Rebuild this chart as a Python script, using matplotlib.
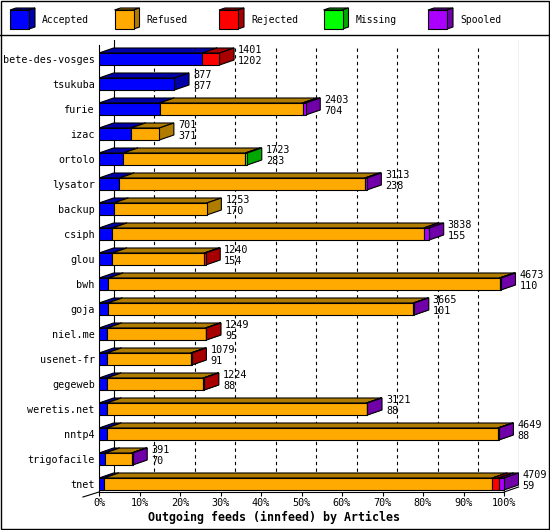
import matplotlib
matplotlib.use("Agg")
import matplotlib.pyplot as plt
from matplotlib.patches import Polygon, Rectangle

# --- data (articles per outgoing innfeed peer) ---
feeds = ["bete-des-vosges", "tsukuba", "furie", "izac", "ortolo", "lysator",
         "backup", "csiph", "glou", "bwh", "goja", "niel.me", "usenet-fr",
         "gegeweb", "weretis.net", "nntp4", "trigofacile", "tnet"]
totals = [1401, 877, 2403, 701, 1723, 3113, 1253, 3838, 1240, 4673, 3665,
          1249, 1079, 1224, 3121, 4649, 391, 4709]
accepted = [1202, 877, 704, 371, 283, 238, 170, 155, 154, 110, 101, 95, 91,
            88, 88, 88, 70, 59]
refused = [0, 0, 1664, 330, 1420, 2855, 1083, 3623, 1071, 4548, 3554, 1144,
           978, 1126, 3023, 4551, 311, 4515]
rejected = [199, 0, 0, 0, 0, 0, 0, 0, 15, 0, 0, 10, 10, 10, 0, 0, 0, 74]
missing = [0, 0, 0, 0, 20, 0, 0, 0, 0, 0, 0, 0, 0, 0, 0, 0, 0, 0]
spooled = [0, 0, 35, 0, 0, 20, 0, 60, 0, 15, 10, 0, 0, 0, 10, 10, 10, 61]

series_names = ["Accepted", "Refused", "Rejected", "Missing", "Spooled"]
series = [accepted, refused, rejected, missing, spooled]
front_colors = ["#0000ff", "#ffaa00", "#ff0000", "#00ff00", "#aa00ff"]
side_colors = ["#0000a8", "#b07c00", "#a80000", "#00a800", "#7000a8"]

FONT = "DejaVu Sans Mono"
W, H = 550, 530

fig = plt.figure(figsize=(W / 100, H / 100), dpi=100)

# 3d depth, in data units
XMAX = 103.7
DX = 3.6          # percent
DY = 0.2          # rows
BH = 0.48         # bar height in rows
YTOP, YBOT = -0.76, 17.32

ax = fig.add_axes([99 / W, (H - 492) / H, 420 / W, 452 / H])
ax.set_xlim(0, XMAX)
ax.set_ylim(YBOT, YTOP)
ax.patch.set_alpha(0)
for s in ["top", "right"]:
    ax.spines[s].set_visible(False)
ax.spines["left"].set_bounds(YBOT, -0.56)
ax.spines["bottom"].set_bounds(0, 100)
ax.spines["left"].set_linewidth(0.8)
ax.spines["bottom"].set_linewidth(0.8)

ax.set_xticks(range(0, 101, 10))
ax.set_xticklabels([f"{t}%" for t in range(0, 101, 10)], fontsize=7.3,
                   family=FONT)
ax.tick_params(axis="x", direction="out", length=3, width=0.8, pad=1)
ax.set_yticks(range(len(feeds)))
ax.set_yticklabels(feeds, fontsize=7.3, family=FONT)
ax.tick_params(axis="y", length=0, pad=3)

# back plane lines and grid
ax.plot([DX, DX], [YTOP, YBOT - DY], color="black", lw=0.8, zorder=1)
ax.plot([100 + DX, 100 + DX], [YTOP, YBOT - DY], color="black", lw=0.8,
        zorder=1)
ax.plot([100, 100 + DX], [YBOT, YBOT - DY], color="black", lw=0.8,
        clip_on=False)
ax.plot([0, -DX * 1.1], [YBOT, YBOT + DY], color="black", lw=0.8,
        clip_on=False)
for g in range(10, 100, 10):
    ax.plot([g + DX, g + DX], [-0.44, YBOT - DY], color="black", lw=0.8,
            linestyle=(0, (3, 3)), zorder=1)

scale = 100.0 / max(totals)
z = 3
for i in range(len(feeds)):
    x0 = 0.0
    top, bot = i - BH / 2, i + BH / 2
    for k, vals in enumerate(series):
        v = vals[i]
        if v <= 0:
            continue
        x1 = x0 + v * scale
        topface = [(x0, top), (x1, top), (x1 + DX, top - DY), (x0 + DX, top - DY)]
        side = [(x1, top), (x1, bot), (x1 + DX, bot - DY), (x1 + DX, top - DY)]
        ax.add_patch(Polygon(topface, closed=True, fc=side_colors[k],
                             ec="black", lw=0.8, zorder=z))
        ax.add_patch(Polygon(side, closed=True, fc=side_colors[k],
                             ec="black", lw=0.8, zorder=z))
        ax.add_patch(Rectangle((x0, top), x1 - x0, BH, fc=front_colors[k],
                               ec="black", lw=0.8, zorder=z + 1))
        z += 2
        x0 = x1
    xt = totals[i] * scale + DX + 1.0
    ax.text(xt, i - 0.37, str(totals[i]), fontsize=7.3, family=FONT,
            va="center", ha="left", clip_on=False, zorder=50)
    ax.text(xt, i + 0.08, str(accepted[i]), fontsize=7.3, family=FONT,
            va="center", ha="left", clip_on=False, zorder=50)

fig.text(274.5 / W, 1 - 517 / H, "Outgoing feeds (innfeed) by Articles",
         fontsize=8.4, family=FONT, fontweight="bold", ha="center",
         va="center")

# overlay in pixel units for the legend and frame
lg = fig.add_axes([0, 0, 1, 1])
lg.set_xlim(0, W)
lg.set_ylim(H, 0)
lg.axis("off")
lg.patch.set_alpha(0)
lg.add_patch(Rectangle((0.5, 0.5), W - 1.5, H - 1.5, fill=False,
                       ec="black", lw=1.0))
lg.plot([0, W], [35, 35], color="black", lw=1.0)
for k, name in enumerate(series_names):
    bx = 10 + k * 104.5
    by, s, ddx, ddy = 10, 19, 6, 2
    lg.add_patch(Polygon([(bx, by), (bx + s, by), (bx + s + ddx, by - ddy),
                          (bx + ddx, by - ddy)], closed=True,
                         fc=side_colors[k], ec="black", lw=0.8))
    lg.add_patch(Polygon([(bx + s, by), (bx + s, by + s),
                          (bx + s + ddx, by + s - ddy),
                          (bx + s + ddx, by - ddy)], closed=True,
                         fc=side_colors[k], ec="black", lw=0.8))
    lg.add_patch(Rectangle((bx, by), s, s, fc=front_colors[k], ec="black",
                           lw=0.8))
    lg.text(bx + 32, 20, name, fontsize=7, family=FONT, va="center",
            ha="left")

fig.savefig("out.png", dpi=100)
